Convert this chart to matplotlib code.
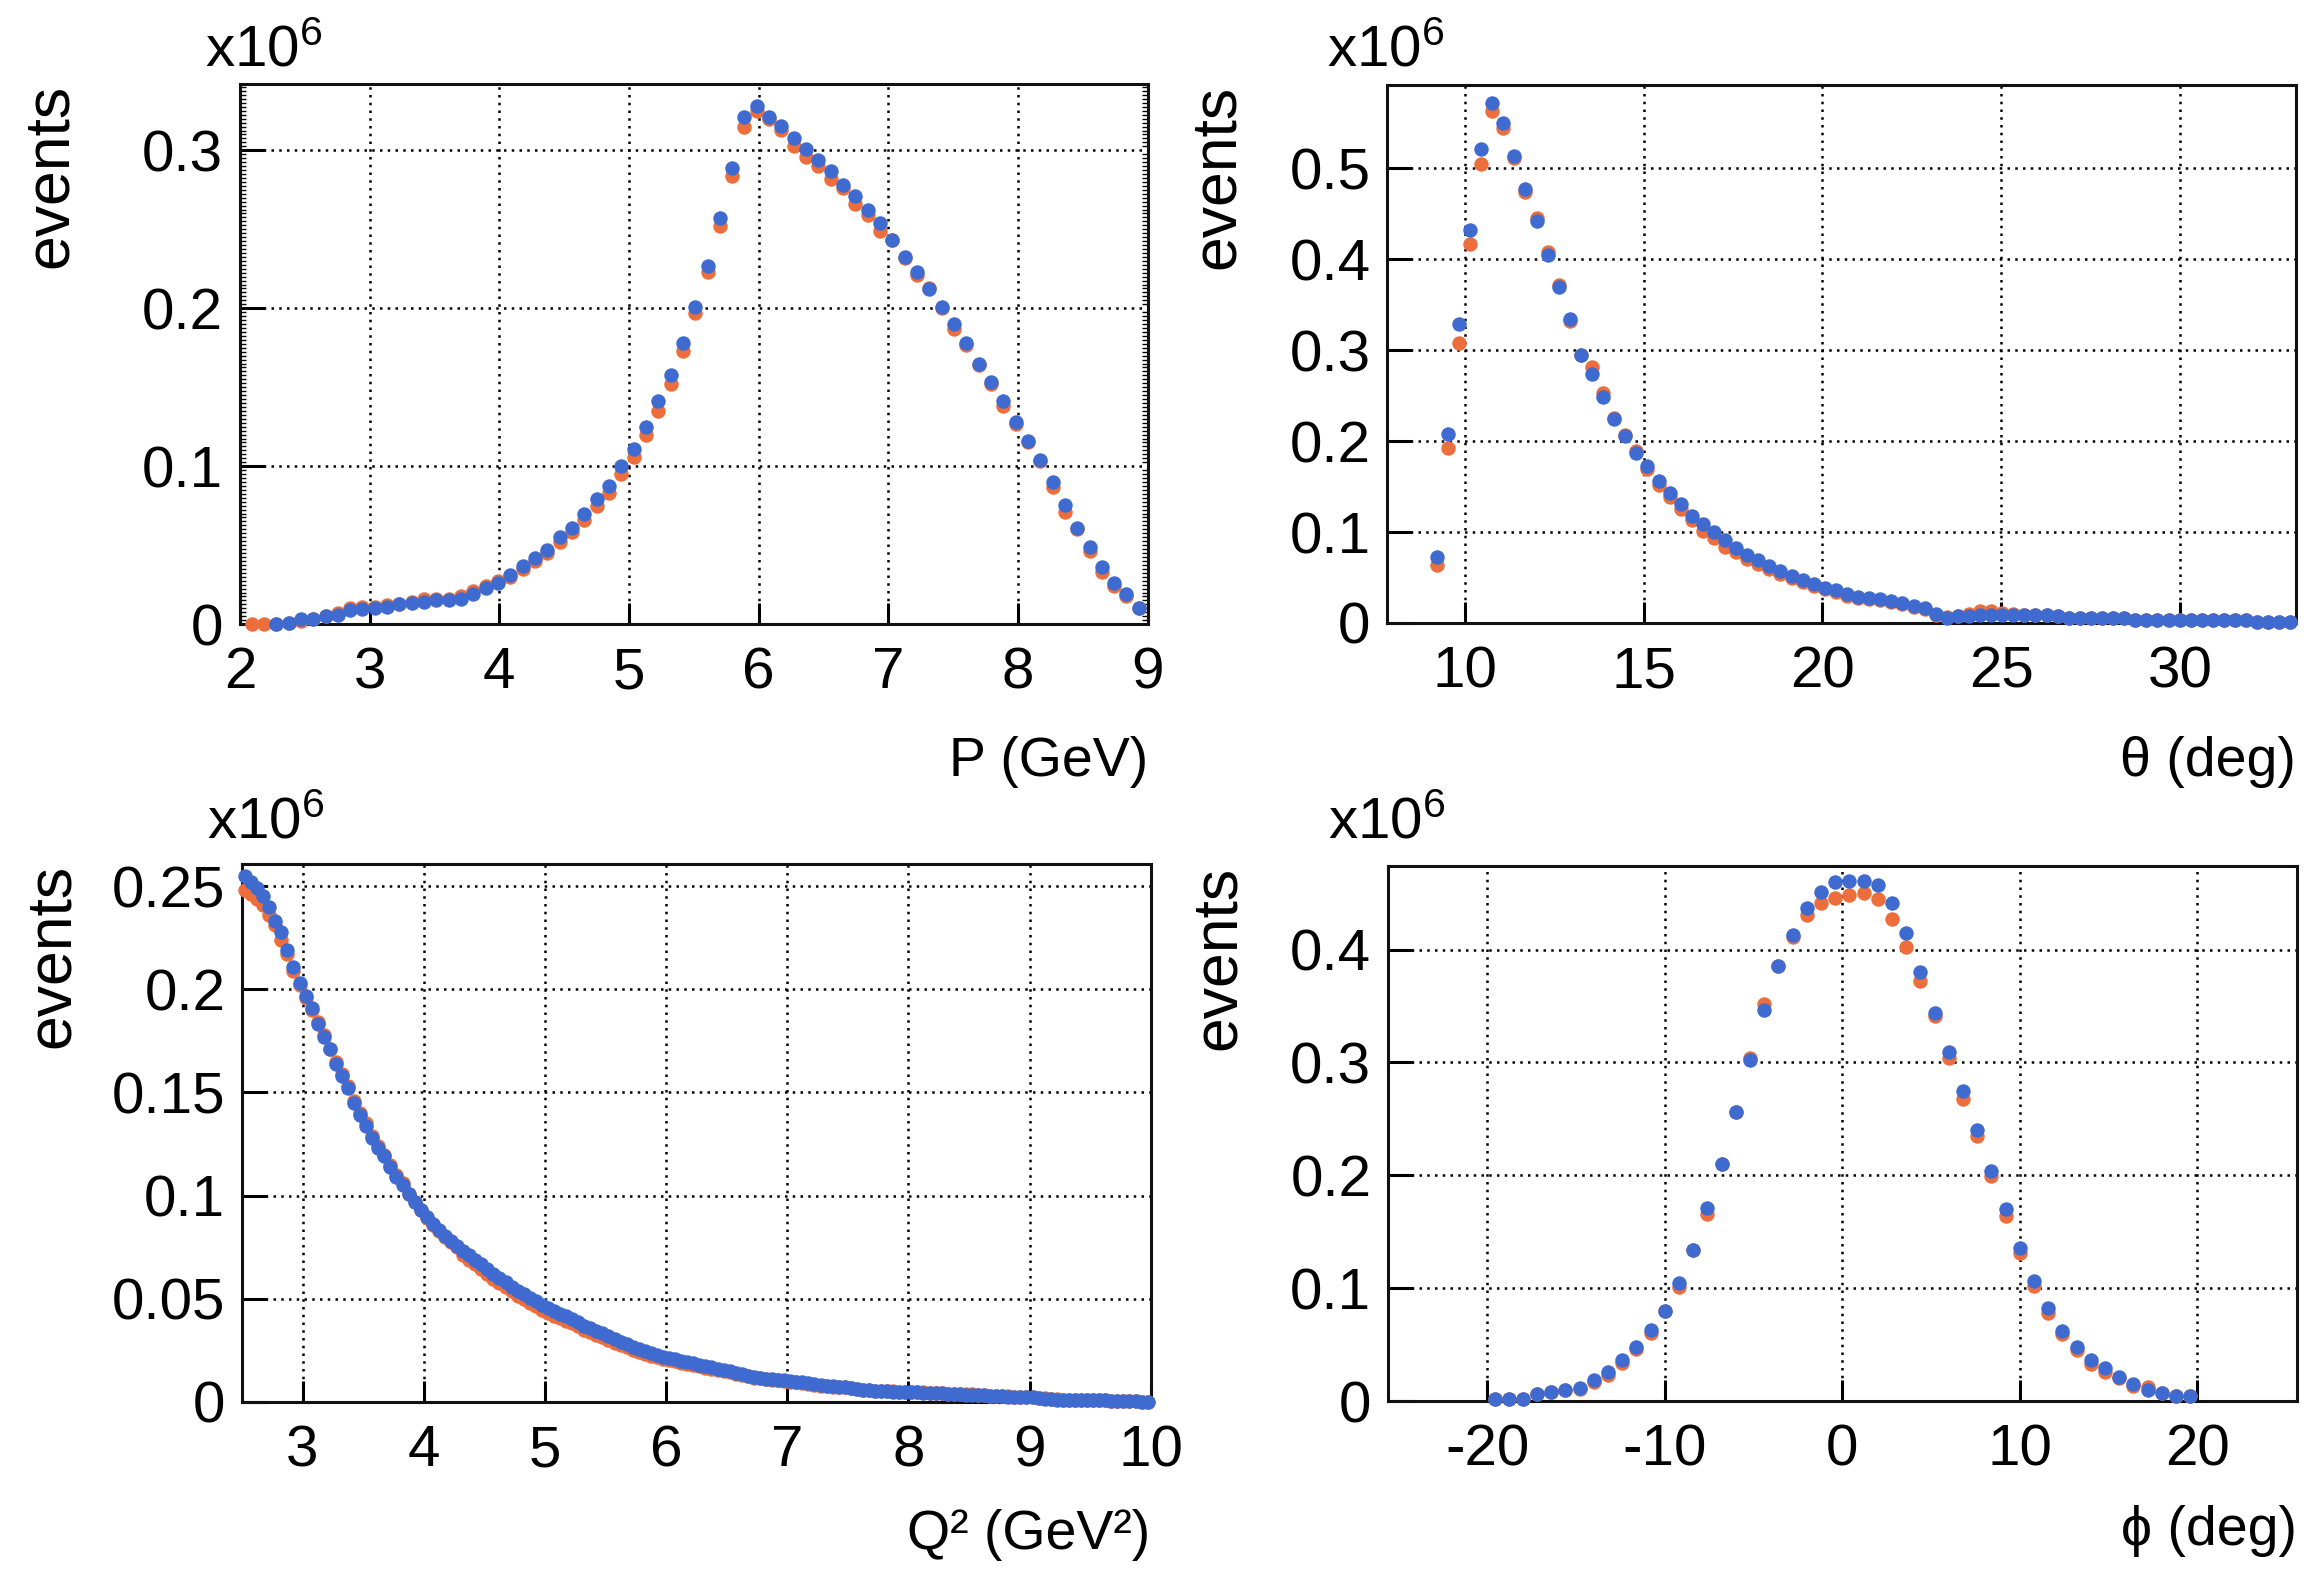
import numpy as np
import matplotlib
matplotlib.use("Agg")
import matplotlib.pyplot as plt
from matplotlib.ticker import MultipleLocator, FuncFormatter

plt.rcParams['font.family'] = ['Liberation Sans', 'DejaVu Sans']
plt.rcParams['axes.unicode_minus'] = False

# colores de las dos muestras
col_orange = '#EC6E3C'
col_blue = '#3F6BD0'

# ---- P (GeV) ----
p_x = np.linspace(2.09, 8.93, 73)
p_blue = [np.nan, np.nan, 0.000, 0.001, 0.003, 0.003, 0.005, 0.006, 0.009, 0.0095,
          0.010, 0.011, 0.0125, 0.0136, 0.014, 0.0155, 0.0155, 0.016, 0.019, 0.023,
          0.026, 0.031, 0.037, 0.042, 0.047, 0.055, 0.061, 0.070, 0.079, 0.0875,
          0.100, 0.111, 0.125, 0.141, 0.158, 0.178, 0.201, 0.227, 0.257, 0.289,
          0.321, 0.328, 0.321, 0.3155, 0.308, 0.301, 0.294, 0.287, 0.278, 0.271,
          0.262, 0.254, 0.243, 0.2325, 0.223, 0.212, 0.2005, 0.190, 0.178, 0.165,
          0.153, 0.141, 0.128, 0.116, 0.104, 0.090, 0.0755, 0.061, 0.049, 0.036,
          0.026, 0.019, 0.010]
p_orange = [0.000, 0.000, 0.000, 0.001, 0.002, 0.003, 0.005, 0.007, 0.010, 0.011,
            0.011, 0.012, 0.013, 0.014, 0.016, 0.016, 0.016, 0.018, 0.021, 0.024,
            0.027, 0.030, 0.035, 0.040, 0.045, 0.052, 0.058, 0.066, 0.075, 0.083,
            0.095, 0.106, 0.120, 0.135, 0.152, 0.173, 0.197, 0.223, 0.252, 0.284,
            0.315, 0.325, 0.320, 0.313, 0.303, 0.296, 0.290, 0.282, 0.276, 0.266,
            0.259, 0.249, 0.243, 0.232, 0.221, 0.213, 0.200, 0.187, 0.177, 0.164,
            0.152, 0.138, 0.127, 0.115, 0.103, 0.087, 0.071, 0.060, 0.046, 0.033,
            0.024, 0.018, 0.010]

# ---- theta (deg) ----
th_x = np.linspace(9.22, 33.09, 78)
th_blue = [0.073, 0.208, 0.329, 0.432, 0.521, 0.572, 0.550, 0.514, 0.477, 0.442,
           0.405, 0.369, 0.334, 0.295, 0.274, 0.248, 0.224, 0.206, 0.187, 0.173,
           0.156, 0.143, 0.131, 0.118, 0.109, 0.100, 0.0915, 0.083, 0.075, 0.069,
           0.063, 0.057, 0.052, 0.047, 0.043, 0.039, 0.036, 0.032, 0.029, 0.027,
           0.026, 0.024, 0.022, 0.019, 0.016, 0.010, 0.006, 0.0075, 0.008, 0.009,
           0.009, 0.009, 0.009, 0.009, 0.009, 0.009, 0.0075, 0.006, 0.0055, 0.0055,
           0.0055, 0.0055, 0.0055, 0.003, 0.003, 0.003, 0.003, 0.003, 0.003, 0.003,
           0.003, 0.003, 0.003, 0.003, 0.001, 0.001, 0.001, 0.001]
th_orange = [0.064, 0.192, 0.308, 0.417, 0.505, 0.563, 0.544, 0.511, 0.474, 0.445,
             0.408, 0.372, 0.332, 0.295, 0.281, 0.253, 0.225, 0.207, 0.189, 0.169,
             0.152, 0.138, 0.125, 0.113, 0.101, 0.093, 0.084, 0.078, 0.070, 0.065,
             0.059, 0.054, 0.050, 0.045, 0.041, 0.037, 0.034, 0.030, 0.027, 0.026,
             0.025, 0.023, 0.021, 0.018, 0.015, 0.009, 0.007, 0.008, 0.010, 0.013,
             0.013, 0.011, 0.010, 0.009, 0.009, 0.009, 0.008, 0.006, 0.0055, 0.0055,
             0.0055, 0.0055, 0.0055, 0.003, 0.003, 0.003, 0.003, 0.003, 0.003, 0.003,
             0.003, 0.003, 0.003, 0.003, 0.001, 0.001, 0.001, 0.001]

# ---- Q2 (GeV2) ----
q2_x = np.linspace(2.525, 9.975, 150)
q2_blue = [0.255, 0.252, 0.249, 0.245, 0.240, 0.233, 0.228, 0.219, 0.211, 0.203,
           0.197, 0.191, 0.183, 0.177, 0.171, 0.164, 0.158, 0.152, 0.145, 0.139,
           0.134, 0.128, 0.123, 0.119, 0.114, 0.109, 0.105, 0.101, 0.097, 0.093,
           0.0895, 0.0862, 0.0832, 0.0805, 0.0779, 0.0755, 0.0733, 0.0712, 0.069, 0.0668,
           0.0644, 0.0622, 0.0601, 0.058, 0.0558, 0.0538, 0.0522, 0.0506, 0.0488, 0.0472,
           0.0456, 0.0441, 0.0428, 0.0416, 0.0404, 0.0388, 0.0370, 0.0358, 0.0346, 0.0333,
           0.0318, 0.0304, 0.0292, 0.0280, 0.0268, 0.0256, 0.0246, 0.0236, 0.0227, 0.0219,
           0.0213, 0.0206, 0.0200, 0.0194, 0.0187, 0.0180, 0.0174, 0.0168, 0.0162, 0.0155,
           0.0148, 0.0141, 0.0134, 0.0128, 0.0122, 0.0117, 0.0113, 0.0110, 0.0107, 0.0105,
           0.0102, 0.0099, 0.0095, 0.0090, 0.0085, 0.0081, 0.0078, 0.0076, 0.0074, 0.0072,
           0.0068, 0.0064, 0.0060, 0.0057, 0.0054, 0.0052, 0.0051, 0.0050, 0.0049, 0.0049,
           0.0048, 0.0047, 0.0046, 0.0045, 0.0043, 0.0042, 0.0041, 0.0040, 0.0038, 0.0036,
           0.0035, 0.0034, 0.0033, 0.0030, 0.0028, 0.0027, 0.0026, 0.0025, 0.0024, 0.0023,
           0.0022, 0.0020, 0.0016, 0.0013, 0.0012, 0.0011, 0.0011, 0.0010, 0.0010, 0.0009,
           0.0009, 0.0008, 0.0008, 0.0007, 0.0005, 0.0004, 0.0003, 0.0003, 0.0002, 0.0001]
q2_orange = [0.248, 0.246, 0.244, 0.241, 0.236, 0.231, 0.224, 0.217, 0.209, 0.202,
             0.196, 0.190, 0.184, 0.178, 0.171, 0.165, 0.159, 0.153, 0.146, 0.140,
             0.135, 0.129, 0.124, 0.1195, 0.115, 0.110, 0.106, 0.101, 0.097, 0.093,
             0.0893, 0.0860, 0.0829, 0.0800, 0.0773, 0.0749, 0.0712, 0.069, 0.0668, 0.0645,
             0.062, 0.0598, 0.0578, 0.0558, 0.0536, 0.0516, 0.0498, 0.0482, 0.0464, 0.0447,
             0.0432, 0.0418, 0.0405, 0.0393, 0.0381, 0.0366, 0.0350, 0.0338, 0.0327, 0.0315,
             0.0300, 0.0288, 0.0277, 0.0265, 0.0254, 0.0243, 0.0234, 0.0225, 0.0217, 0.0209,
             0.0203, 0.0197, 0.0191, 0.0185, 0.0179, 0.0173, 0.0167, 0.0161, 0.0155, 0.0149,
             0.0143, 0.0136, 0.0130, 0.0124, 0.0118, 0.0114, 0.0110, 0.0107, 0.0105, 0.0102,
             0.0099, 0.0096, 0.0093, 0.0088, 0.0083, 0.0079, 0.0076, 0.0075, 0.0074, 0.0072,
             0.0067, 0.0063, 0.0059, 0.0056, 0.0054, 0.0053, 0.0052, 0.0051, 0.0050, 0.0049,
             0.0048, 0.0048, 0.0047, 0.0045, 0.0043, 0.0042, 0.0041, 0.0040, 0.0039, 0.0038,
             0.0037, 0.0035, 0.0034, 0.0031, 0.0029, 0.0028, 0.0027, 0.0026, 0.0025, 0.0024,
             0.0023, 0.0021, 0.0017, 0.0014, 0.0013, 0.0012, 0.0011, 0.0011, 0.0010, 0.0010,
             0.0009, 0.0009, 0.0008, 0.0007, 0.0006, 0.0005, 0.0004, 0.0003, 0.0002, 0.0001]

# ---- phi (deg) ----
phi_x = np.linspace(-19.6, 19.6, 50)
phi_blue = [0.002, 0.002, 0.002, 0.006, 0.008, 0.010, 0.012, 0.019, 0.026, 0.036,
            0.048, 0.063, 0.080, 0.105, 0.134, 0.171, 0.210, 0.256, 0.302, 0.346,
            0.385, 0.413, 0.437, 0.451, 0.4595, 0.461, 0.461, 0.457, 0.4415, 0.415,
            0.380, 0.344, 0.309, 0.275, 0.2405, 0.204, 0.170, 0.1355, 0.1065, 0.082,
            0.062, 0.048, 0.036, 0.029, 0.0215, 0.0155, 0.010, 0.0067, 0.0045, 0.0045]
phi_orange = [0.002, 0.002, 0.002, 0.006, 0.008, 0.010, 0.011, 0.017, 0.023, 0.034,
              0.046, 0.060, 0.080, 0.101, 0.134, 0.166, 0.210, 0.256, 0.304, 0.352,
              0.385, 0.411, 0.431, 0.441, 0.446, 0.448, 0.4505, 0.445, 0.427, 0.402,
              0.372, 0.341, 0.304, 0.268, 0.235, 0.199, 0.164, 0.131, 0.1015, 0.078,
              0.059, 0.045, 0.033, 0.026, 0.020, 0.0135, 0.0125, 0.0067, 0.0045, 0.0045]

fig = plt.figure(figsize=(23.18, 15.84), dpi=100)

# un diccionario por panel: posicion, datos, limites, ticks y textos
paneles = [
    dict(pos=[0.1035, 0.606, 0.3917, 0.341], x=p_x, o=p_orange, b=p_blue,
         xlim=(2, 9), ylim=(0, 0.342), xt=np.arange(2, 10, 1), yt=[0, 0.1, 0.2, 0.3],
         xlab='P (GeV)', ylab_x=-0.209, exp=(-0.038, 1.033), xlab_y=-0.281, minor=True),
    dict(pos=[0.5984, 0.6067, 0.3922, 0.3396], x=th_x, o=th_orange, b=th_blue,
         xlim=(7.83, 33.25), ylim=(0, 0.5915), xt=[10, 15, 20, 25, 30],
         yt=[0, 0.1, 0.2, 0.3, 0.4, 0.5],
         xlab='θ (deg)', ylab_x=-0.187, exp=(-0.066, 1.035), xlab_y=-0.285, minor=False),
    dict(pos=[0.1044, 0.1149, 0.392, 0.3396], x=q2_x, o=q2_orange, b=q2_blue,
         xlim=(2.5, 10), ylim=(0, 0.2607), xt=np.arange(3, 11, 1),
         yt=[0, 0.05, 0.1, 0.15, 0.2, 0.25],
         xlab='Q² (GeV²)', ylab_x=-0.209, exp=(-0.039, 1.048), xlab_y=-0.273, minor=False),
    dict(pos=[0.5988, 0.1155, 0.392, 0.3378], x=phi_x, o=phi_orange, b=phi_blue,
         xlim=(-25.6, 25.6), ylim=(0, 0.474), xt=[-20, -10, 0, 10, 20],
         yt=[0, 0.1, 0.2, 0.3, 0.4],
         xlab='ϕ (deg)', ylab_x=-0.187, exp=(-0.066, 1.052), xlab_y=-0.269, minor=False),
]

fmt = FuncFormatter(lambda v, pos: '%g' % v)

for pn in paneles:
    ax = fig.add_axes(pn['pos'])
    ax.plot(pn['x'], pn['o'], 'o', color=col_orange, ms=10.4, mew=0, clip_on=False, zorder=3)
    ax.plot(pn['x'], pn['b'], 'o', color=col_blue, ms=10.4, mew=0, clip_on=False, zorder=4)
    ax.set_xlim(pn['xlim'])
    ax.set_ylim(pn['ylim'])
    ax.set_xticks(pn['xt'])
    ax.set_yticks(pn['yt'])
    ax.xaxis.set_major_formatter(fmt)
    ax.yaxis.set_major_formatter(fmt)
    ax.grid(True, color='black', linestyle=(0, (1, 2.1)), linewidth=1.8)
    ax.set_axisbelow(True)
    for s in ax.spines.values():
        s.set_linewidth(2.2)
        s.set_color('#111111')
    ax.tick_params(axis='x', which='major', direction='in', length=15, width=2.2,
                   labelsize=42, pad=16, top=False)
    ax.tick_params(axis='y', which='major', direction='in', length=18, width=2.2,
                   labelsize=42, pad=12, right=False)
    if pn['minor']:
        ax.yaxis.set_minor_locator(MultipleLocator(0.0025))
        ax.tick_params(axis='y', which='minor', direction='in', length=4, width=1,
                       left=True, right=True)
    ax.text(pn['ylab_x'], 1.0, 'events', transform=ax.transAxes, rotation=90,
            ha='center', va='top', fontsize=45)
    ax.text(pn['exp'][0], pn['exp'][1], r'$\mathregular{x10^{6}}$', transform=ax.transAxes,
            ha='left', va='baseline', fontsize=42)
    ax.text(1.0, pn['xlab_y'], pn['xlab'], transform=ax.transAxes,
            ha='right', va='baseline', fontsize=40)

fig.savefig('out.png', dpi=100)
